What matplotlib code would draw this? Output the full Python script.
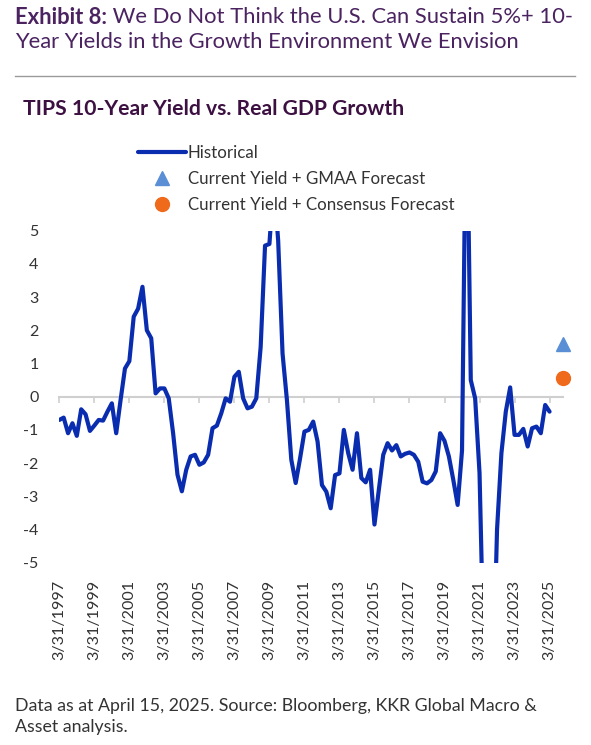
import matplotlib
matplotlib.use("Agg")
import matplotlib.pyplot as plt
from matplotlib.legend_handler import HandlerLine2D
from matplotlib.lines import Line2D
import pandas as pd

plt.rcParams['font.family'] = ['Lato', 'DejaVu Sans']

# ---------------- data ----------------
# quarter-end categories of the chart's axis
categories = pd.date_range("1997-03-31", "2025-12-31", freq="QE")
# historical series, quarterly from 3/31/1997 to 3/31/2025
historical = [
    -0.70, -0.63, -1.10, -0.80, -1.18, -0.38, -0.53, -1.03, -0.87, -0.70,
    -0.72, -0.45, -0.20, -1.10, -0.10, 0.85, 1.07, 2.41, 2.65, 3.31,
    2.00, 1.76, 0.10, 0.25, 0.25, -0.05, -1.10, -2.35, -2.85, -2.20,
    -1.80, -1.75, -2.05, -1.98, -1.75, -0.95, -0.87, -0.50, -0.05, -0.15,
    0.60, 0.75, -0.05, -0.35, -0.30, -0.05, 1.50, 4.55, 4.60, 6.50,
    4.70, 1.30, -0.10, -1.90, -2.60, -1.86, -1.05, -1.00, -0.75, -1.35,
    -2.66, -2.86, -3.36, -2.36, -2.31, -1.00, -1.70, -2.20, -1.10, -2.45,
    -2.58, -2.20, -3.85, -2.80, -1.75, -1.40, -1.62, -1.46, -1.80, -1.72,
    -1.68, -1.75, -1.96, -2.56, -2.61, -2.51, -2.25, -1.10, -1.33, -1.80,
    -2.50, -3.26, -1.62, 10.00, 0.50, -0.05, -2.30, -8.00, -10.00, -9.00,
    -4.00, -1.70, -0.45, 0.28, -1.15, -1.15, -0.97, -1.50, -0.95, -0.90,
    -1.10, -0.25, -0.45,
]
forecast_date = "2025-12-31"
gmaa_forecast = 1.6
consensus_forecast = 0.55
yticks = list(range(-5, 6))
label_every = 8  # one label every two years

series_labels = ["Historical", "Current Yield + GMAA Forecast",
                 "Current Yield + Consensus Forecast"]

title_bold = "Exhibit 8:"
title_rest1 = " We Do Not Think the U.S. Can Sustain 5%+ 10-"
title_line2 = "Year Yields in the Growth Environment We Envision"
subtitle = "TIPS 10-Year Yield vs. Real GDP Growth"
footer = ("Data as at April 15, 2025. Source: Bloomberg, KKR Global Macro &\n"
          "Asset analysis.")

# ---------------- figure ----------------
W, H, DPI = 591, 745, 100
fig = plt.figure(figsize=(W / DPI, H / DPI), dpi=DPI)

def fx(px):
    return px / W

def fy(py):
    return 1 - py / H

TITLE_C = "#4a2360"
SUB_C = "#3d1042"
TEXT_C = "#333333"
LINE_C = "#0a2db0"

# axes area
x0, x1 = 59.3, 562.7
ytop, ybot = 230.7, 562.7
ax = fig.add_axes([fx(x0), fy(ybot), fx(x1 - x0), (ybot - ytop) / H])

x_all = list(range(len(categories)))
x_hist = x_all[:len(historical)]
fi = list(categories).index(pd.Timestamp(forecast_date))

(h_line,) = ax.plot(x_hist, historical, color=LINE_C, lw=3.0,
                    solid_joinstyle="round", solid_capstyle="round",
                    zorder=3, label=series_labels[0])
(h_tri,) = ax.plot([fi], [gmaa_forecast], ls="none", marker="^", ms=9.5,
                   color="#5a8fd6", clip_on=False, zorder=4,
                   label=series_labels[1])
(h_dot,) = ax.plot([fi], [consensus_forecast], ls="none", marker="o", ms=10,
                   color="#f06a1c", clip_on=False, zorder=4,
                   label=series_labels[2])

ax.set_xlim(x_all[0], x_all[-1])
ax.set_ylim(yticks[0], yticks[-1])
for s in ax.spines.values():
    s.set_visible(False)
ax.set_yticks(yticks)
ax.set_yticklabels([str(v) for v in yticks])
ax.tick_params(axis="y", length=0, pad=15, labelsize=11.5, labelcolor=TEXT_C)

tick_pos = x_all[:len(historical)][::label_every]
tick_lab = [f"{d.month}/{d.day}/{d.year}" for d in categories[tick_pos]]
ax.set_xticks(tick_pos)
ax.set_xticklabels(tick_lab, rotation=90, va="top", ha="center")
ax.tick_params(axis="x", length=0, pad=12.5, labelsize=11.6, labelcolor=TEXT_C)

# zero line with tick marks
sec = ax.secondary_xaxis(0.5)
sec.set_xticks(tick_pos)
sec.set_xticklabels([])
sec.tick_params(axis="x", direction="in", length=4, width=1.2, color="#cfcfcf")
for s in sec.spines.values():
    s.set_color("#cfcfcf")
    s.set_linewidth(1.5)
sec.set_zorder(0)

# ---------------- legend ----------------
class RightMarker(HandlerLine2D):
    def get_xdata(self, legend, xdescent, ydescent, width, height, fontsize):
        xdata, _ = super().get_xdata(legend, xdescent, ydescent, width, height, fontsize)
        return xdata, [-xdescent + width - 7.5]

leg = fig.legend([h_line, h_tri, h_dot], series_labels,
                 loc="upper left", bbox_to_anchor=(fx(138), fy(145)),
                 frameon=False, fontsize=12.2, handlelength=2.83,
                 handletextpad=0.12, borderpad=0, borderaxespad=0,
                 labelspacing=0.6, labelcolor=TEXT_C,
                 handler_map={h_tri: RightMarker(numpoints=1),
                              h_dot: RightMarker(numpoints=1)})

# ---------------- texts ----------------
fig.canvas.draw()
r = fig.canvas.get_renderer()
TS = 15.8
tb = fig.text(fx(15), fy(17), title_bold, fontsize=TS, fontweight="bold",
              color=TITLE_C, va="center", ha="left")
bb = tb.get_window_extent(renderer=r)
fig.text(bb.x1 / W, fy(17), title_rest1, fontsize=TS, color=TITLE_C,
         va="center", ha="left")
fig.text(fx(15), fy(42), title_line2, fontsize=TS, color=TITLE_C,
         va="center", ha="left")

fig.add_artist(Line2D([fx(15), fx(575)], [fy(76), fy(76)], color="#9a9a9a",
                      lw=1.0))

fig.text(fx(23), fy(109), subtitle, fontsize=15.2, fontweight="bold",
         color=SUB_C, va="center", ha="left")

fig.text(fx(15), fy(716.5), footer, fontsize=12.8, color=TEXT_C, va="center",
         ha="left", linespacing=1.42)

fig.savefig("out.png", dpi=DPI)
